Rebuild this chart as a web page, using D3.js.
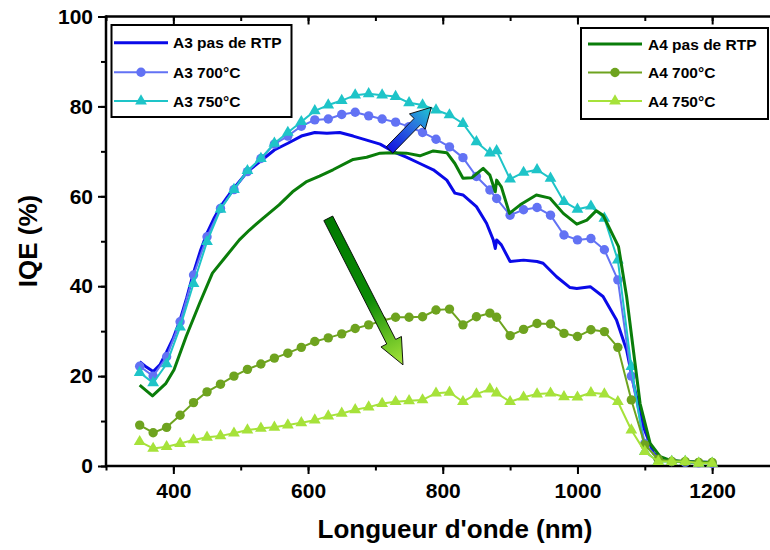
<!DOCTYPE html>
<html>
<head>
<meta charset="utf-8">
<script src="https://cdn.jsdelivr.net/npm/d3@7"></script>
<style>
  html, body { margin: 0; padding: 0; background: #fff; }
  svg { display: block; }
  text { font-family: "Liberation Sans", Arial, sans-serif; font-weight: bold; fill: #000; }
</style>
</head>
<body>
<svg id="chart" width="770" height="550"></svg>
<script>
// ---------- DATA ----------
const markerWl = [350,370,390,410,430,450,470,490,510,530,550,570,590,610,630,650,670,690,710,730,750,770,790,810,830,850,870,880,900,920,940,960,980,1000,1020,1040,1060,1080,1100,1120,1140,1160,1180,1200];

const a3_700 = [22.2,20.0,24.3,32.1,42.5,51.0,57.3,61.5,65.5,68.4,71.6,73.4,75.6,77.0,77.2,78.2,78.7,77.9,77.2,76.5,75.5,74.2,72.7,71.0,68.6,64.4,61.4,59.5,55.8,57.0,57.5,55.8,51.4,50.3,50.6,48.1,41.4,20.0,5.0,1.5,1.0,0.8,0.7,0.6];
const a3_750 = [20.8,18.5,22.7,30.9,40.6,49.9,57.1,61.5,65.7,68.4,71.8,74.2,76.6,79.0,80.3,81.3,82.5,82.8,82.5,82.2,80.8,80.3,79.2,78.1,76.2,72.1,69.6,70.1,63.8,65.3,65.9,64.0,58.8,57.1,57.8,55.1,45.8,22.1,3.2,1.0,1.0,1.0,0.6,0.6];
const a4_700 = [9.1,7.4,8.6,11.3,14.1,16.5,18.2,20.0,21.5,22.7,24.0,25.1,26.4,27.7,28.5,29.4,30.6,31.4,32.3,33.1,33.1,33.2,34.7,34.9,31.4,33.2,34.0,33.1,29.0,30.4,31.7,31.6,29.5,28.8,30.3,29.9,26.4,14.7,4.7,1.5,1.0,1.0,0.8,0.8];
const a4_750 = [5.4,3.9,4.3,5.0,5.8,6.4,6.7,7.3,8.0,8.4,8.6,9.1,9.6,10.2,11.1,11.7,12.5,13.1,13.9,14.3,14.5,14.7,16.2,16.4,14.3,16.0,17.1,16.2,14.3,15.3,16.0,16.2,15.4,15.3,16.3,16.0,14.3,8.0,3.2,1.0,1.0,1.0,0.6,0.6];

const a3_rtp_wl = [350,360,370,380,390,400,410,420,430,440,450,460,470,480,490,510,530,550,570,590,610,628,647,667,687,707,727,746,766,786,806,818,830,850,865,875,878,880,887,900,920,940,949,969,989,999,1019,1038,1058,1073,1083,1098,1113,1127,1150,1200];
const a3_rtp    = [23.2,22.0,21.0,22.5,25.4,28.5,32.5,37.5,43.0,47.8,51.8,55.0,57.7,59.8,61.8,65.5,67.9,70.3,71.8,73.4,74.2,74.0,74.2,73.4,72.5,71.6,69.9,68.7,67.3,65.9,63.6,60.7,60.3,57.7,54.0,50.3,48.4,50.3,49.2,45.5,45.8,45.5,45.1,42.1,39.7,39.5,39.9,37.7,32.5,25.8,18.4,8.7,2.8,1.3,1.0,0.8];

const a4_rtp_wl = [350,369,389,401,419,439,458,478,498,513,533,557,577,597,617,637,667,687,707,724,746,766,786,806,818,830,843,860,870,878,880,887,899,915,939,959,979,999,1014,1028,1038,1061,1073,1083,1093,1108,1123,1137,1160,1200];
const a4_rtp    = [18.0,15.6,18.4,21.4,28.8,36.2,42.9,46.6,50.3,52.5,55.1,58.1,61.0,63.2,64.5,65.9,68.2,68.7,69.6,69.7,69.6,69.0,70.1,69.7,67.3,64.0,64.1,66.2,64.7,61.0,63.6,62.1,56.2,58.1,60.3,59.6,56.2,53.8,54.7,56.8,55.8,48.8,37.7,25.8,13.9,5.0,2.1,1.3,1.0,0.8];

const xTicks = [400,600,800,1000,1200];
const yTicks = [0,20,40,60,80,100];
const seriesNames = ["A3 pas de RTP","A3 700°C","A3 750°C","A4 pas de RTP","A4 700°C","A4 750°C"];
const seriesColors = ["#0a0ae8","#6272f4","#1ec4c8","#0a7d0a","#6ea31f","#a6e23a"];

// ---------- LAYOUT ----------
const svg = d3.select("#chart");
const L = 106, R = 779.5, T = 16.5, B = 466;
const x = d3.scaleLinear().domain([300,1300]).range([L,R]);
const y = d3.scaleLinear().domain([0,100]).range([B,T]);

// ---------- AXES ----------
const xMinor = d3.range(300,1301,100);
const yMinor = d3.range(0,101,10);

const gBottom = svg.append("g").attr("transform",`translate(0,${B})`);
gBottom.call(d3.axisBottom(x).tickValues(xMinor).tickSize(4.5).tickFormat(""));
gBottom.append("g").call(d3.axisBottom(x).tickValues(xTicks).tickSize(8).tickPadding(9).tickFormat(d3.format("d")));
const gTop = svg.append("g").attr("transform",`translate(0,${T})`);
gTop.call(d3.axisBottom(x).tickValues(xMinor).tickSize(4.5).tickFormat(""));
gTop.append("g").call(d3.axisBottom(x).tickValues(xTicks).tickSize(8).tickFormat(""));
const gLeft = svg.append("g").attr("transform",`translate(${L},0)`);
gLeft.call(d3.axisLeft(y).tickValues(yMinor).tickSize(5).tickFormat(""));
gLeft.append("g").call(d3.axisLeft(y).tickValues(yTicks).tickSize(8).tickPadding(5).tickFormat(d3.format("d")));

svg.selectAll(".domain").attr("stroke","none");
svg.selectAll(".tick line").attr("stroke","#000").attr("stroke-width",2);
svg.selectAll(".tick text").attr("font-size",21).attr("font-family","Liberation Sans, Arial, sans-serif").attr("font-weight","bold").attr("fill","#000");

// frame lines
svg.append("line").attr("x1",L).attr("x2",R).attr("y1",B).attr("y2",B).attr("stroke","#000").attr("stroke-width",2.5);
svg.append("line").attr("x1",L).attr("x2",R).attr("y1",T).attr("y2",T).attr("stroke","#000").attr("stroke-width",2.5);
svg.append("line").attr("x1",L).attr("x2",L).attr("y1",T-1.2).attr("y2",B+1.2).attr("stroke","#000").attr("stroke-width",2.5);
svg.append("line").attr("x1",R).attr("x2",R).attr("y1",T).attr("y2",B).attr("stroke","#000").attr("stroke-width",2.5);

// axis titles
svg.append("text").attr("x",455).attr("y",538).attr("text-anchor","middle").attr("font-size",26).text("Longueur d'onde (nm)");
svg.append("text").attr("transform","translate(37,241) rotate(-90)").attr("text-anchor","middle").attr("font-size",26).text("IQE (%)");

// ---------- SERIES ----------
const plot = svg.append("g");
const line = d3.line().x(d=>x(d[0])).y(d=>y(d[1]));
const tri = d3.symbol().type(d3.symbolTriangle).size(60);

function drawSeries(wl, vals, color, width, marker) {
  const pts = wl.map((w,i)=>[w, vals[i]]);
  plot.append("path").datum(pts).attr("d",line).attr("fill","none")
    .attr("stroke",color).attr("stroke-width",width).attr("stroke-linejoin","round");
  if (marker === "circle") {
    plot.append("g").selectAll("circle").data(pts).join("circle")
      .attr("cx",d=>x(d[0])).attr("cy",d=>y(d[1])).attr("r",4.7).attr("fill",color);
  } else if (marker === "triangle") {
    plot.append("g").selectAll("path").data(pts).join("path")
      .attr("d",tri).attr("transform",d=>`translate(${x(d[0])},${y(d[1])})`).attr("fill",color);
  }
}
drawSeries(a3_rtp_wl, a3_rtp, seriesColors[0], 3, null);
drawSeries(markerWl, a3_700, seriesColors[1], 2, "circle");
drawSeries(markerWl, a3_750, seriesColors[2], 2, "triangle");
drawSeries(a4_rtp_wl, a4_rtp, seriesColors[3], 3, null);
drawSeries(markerWl, a4_700, seriesColors[4], 2, "circle");
drawSeries(markerWl, a4_750, seriesColors[5], 2, "triangle");

// ---------- ARROWS ----------
const defs = svg.append("defs");
function arrow(id, t, h, c0, cMid, c1, halfShaft, halfHead, headLen) {
  const x0 = x(t[0]), y0 = y(t[1]), x1 = x(h[0]), y1 = y(h[1]);
  const g = defs.append("linearGradient").attr("id",id).attr("gradientUnits","userSpaceOnUse")
    .attr("x1",x0).attr("y1",y0).attr("x2",x1).attr("y2",y1);
  g.append("stop").attr("offset","0").attr("stop-color",c0);
  g.append("stop").attr("offset","0.55").attr("stop-color",cMid);
  g.append("stop").attr("offset","1").attr("stop-color",c1);
  const dx = x1-x0, dy = y1-y0, len = Math.hypot(dx,dy);
  const ux = dx/len, uy = dy/len, px = -uy, py = ux;
  const bx = x1 - ux*headLen, by = y1 - uy*headLen;
  const P = [
    [x0+px*halfShaft, y0+py*halfShaft],
    [bx+px*halfShaft, by+py*halfShaft],
    [bx+px*halfHead, by+py*halfHead],
    [x1, y1],
    [bx-px*halfHead, by-py*halfHead],
    [bx-px*halfShaft, by-py*halfShaft],
    [x0-px*halfShaft, y0-py*halfShaft]
  ];
  svg.append("polygon").attr("points",P.map(p=>p.join(",")).join(" "))
    .attr("fill",`url(#${id})`).attr("stroke","#000").attr("stroke-width",0.9).attr("stroke-linejoin","miter");
}
arrow("gBlue", [721,70.3], [783,79.8], "#1414e0", "#2a6fe0", "#1ec8d0", 4.5, 11, 20);
arrow("gGreen", [630,55.1], [741,22.5], "#007a00", "#0b8a06", "#a8e63a", 5, 11.5, 26);

// ---------- LEGENDS ----------
function legend(bx, by, bw, bh, lx0, lx1, tx, rows, idx, markers) {
  svg.append("rect").attr("x",bx).attr("y",by).attr("width",bw).attr("height",bh)
    .attr("fill","#fff").attr("stroke","#000").attr("stroke-width",2);
  idx.forEach((k,i)=>{
    const ry = rows[i];
    svg.append("line").attr("x1",lx0).attr("x2",lx1).attr("y1",ry).attr("y2",ry)
      .attr("stroke",seriesColors[k]).attr("stroke-width", markers[i] ? 2 : 3);
    const mx = (lx0+lx1)/2;
    if (markers[i]==="circle") svg.append("circle").attr("cx",mx).attr("cy",ry).attr("r",4.7).attr("fill",seriesColors[k]);
    if (markers[i]==="triangle") svg.append("path").attr("d",tri()).attr("transform",`translate(${mx},${ry})`).attr("fill",seriesColors[k]);
    svg.append("text").attr("x",tx).attr("y",ry+5.5).attr("font-size",15.5).text(seriesNames[k]);
  });
}
legend(111.5, 25, 180, 92, 114, 168, 173, [42.7,72.3,101], [0,1,2], [null,"circle","triangle"]);
legend(581, 28, 187, 91, 588, 642, 648, [44,72.5,101], [3,4,5], [null,"circle","triangle"]);
</script>
</body>
</html>
